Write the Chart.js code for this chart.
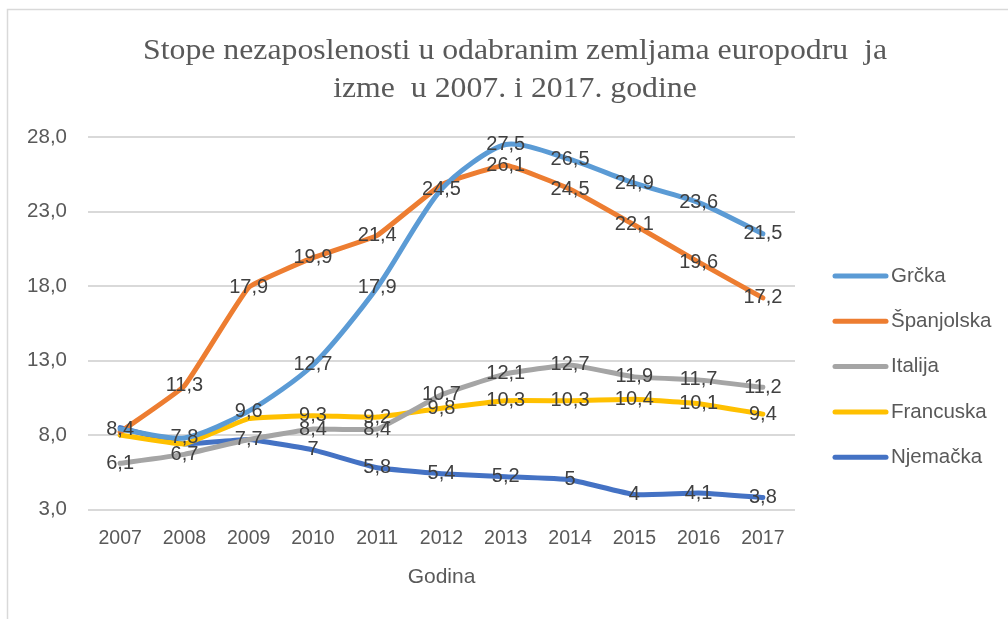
<!DOCTYPE html>
<html>
<head>
<meta charset="utf-8">
<style>
  html,body{margin:0;padding:0;background:#fff;}
  #wrap{position:relative;width:1008px;height:619px;}
</style>
<script src="https://cdn.jsdelivr.net/npm/chart.js@4/dist/chart.umd.min.js"></script>
</head>
<body>
<div id="wrap"><canvas id="c" width="1008" height="619"></canvas></div>
<script>
const years = ['2007','2008','2009','2010','2011','2012','2013','2014','2015','2016','2017'];
const grcka = [8.4, 7.8, 9.6, 12.7, 17.9, 24.5, 27.5, 26.5, 24.9, 23.6, 21.5];
const spanjolska = [8.2, 11.3, 17.9, 19.9, 21.4, 24.8, 26.1, 24.5, 22.1, 19.6, 17.2];
const italija = [6.1, 6.7, 7.7, 8.4, 8.4, 10.7, 12.1, 12.7, 11.9, 11.7, 11.2];
const francuska = [8.0, 7.4, 9.1, 9.3, 9.2, 9.8, 10.3, 10.3, 10.4, 10.1, 9.4];
const njemacka = [8.5, 7.4, 7.7, 7.0, 5.8, 5.4, 5.2, 5.0, 4.0, 4.1, 3.8];
const yTicks = [3, 8, 13, 18, 23, 28];
const titleLines = ['Stope nezaposlenosti u odabranim zemljama europodru  ja', 'izme  u 2007. i 2017. godine'];
const xTitle = 'Godina';
// indices of points whose value label is not shown in the original
const hiddenLabels = {
  'Grčka': [],
  'Španjolska': [0, 5],
  'Italija': [2],
  'Francuska': [0, 1, 2],
  'Njemačka': [0, 1]
};

const series = [
  {label:'Grčka', data:grcka, color:'#5B9BD5', tension:0.25},
  {label:'Španjolska', data:spanjolska, color:'#ED7D31', tension:0.1},
  {label:'Italija', data:italija, color:'#A5A5A5', tension:0.1},
  {label:'Francuska', data:francuska, color:'#FFC000', tension:0.1},
  {label:'Njemačka', data:njemacka, color:'#4472C4', tension:0.1}
];

const fmt = v => String(v).replace('.', ',');
const TXT = '#404040';
const SANS = '"Liberation Sans", Arial, sans-serif';

const decorPlugin = {
  id: 'decor',
  beforeDraw(chart){
    const ctx = chart.ctx;
    ctx.save();
    ctx.strokeStyle = '#D9D9D9';
    ctx.lineWidth = 1.5;
    ctx.beginPath();
    ctx.moveTo(7.5, 619); ctx.lineTo(7.5, 9.5); ctx.lineTo(1008, 9.5);
    ctx.stroke();
    // title
    ctx.fillStyle = '#595959';
    ctx.font = '29px "Liberation Serif", "Times New Roman", serif';
    ctx.textAlign = 'center';
    ctx.textBaseline = 'middle';
    const w0 = ctx.measureText(titleLines[0]).width;
    const sx = 744 / w0;
    [[titleLines[0], 51], [titleLines[1], 89]].forEach(([t, y]) => {
      ctx.save();
      ctx.translate(515, y);
      ctx.scale(sx, 1);
      ctx.fillText(t, 0, 0);
      ctx.restore();
    });
    ctx.restore();
  },
  afterDatasetsDraw(chart){
    const ctx = chart.ctx;
    ctx.save();
    ctx.font = '20px ' + SANS;
    ctx.fillStyle = TXT;
    ctx.textAlign = 'center';
    ctx.textBaseline = 'middle';
    chart.data.datasets.forEach((ds, di) => {
      const meta = chart.getDatasetMeta(di);
      const hid = hiddenLabels[ds.label] || [];
      meta.data.forEach((pt, i) => {
        if (hid.includes(i)) return;
        ctx.fillText(fmt(ds.data[i]), pt.x, pt.y);
      });
    });
    // legend
    const lx = 832, ly0 = 276, gap = 45.3;
    chart.data.datasets.forEach((ds, i) => {
      const y = ly0 + i * gap;
      ctx.strokeStyle = ds.borderColor;
      ctx.lineWidth = 5;
      ctx.lineCap = 'round';
      ctx.beginPath(); ctx.moveTo(lx + 3, y); ctx.lineTo(lx + 54, y); ctx.stroke();
      ctx.fillStyle = '#595959';
      ctx.textAlign = 'left';
      ctx.font = '20.5px ' + SANS;
      ctx.fillText(ds.label, lx + 59, y);
    });
    ctx.restore();
  }
};

new Chart(document.getElementById('c'), {
  type: 'line',
  data: {
    labels: years,
    datasets: series.map(s => ({
      label: s.label,
      data: s.data,
      borderColor: s.color,
      backgroundColor: s.color,
      borderWidth: 5,
      pointRadius: 0,
      tension: s.tension,
      fill: false,
      borderCapStyle: 'round',
      borderJoinStyle: 'round'
    }))
  },
  options: {
    responsive: false,
    animation: false,
    devicePixelRatio: 1,
    layout: { padding: { left: 8, right: 213, top: 137, bottom: 31 } },
    plugins: { legend: { display: false }, title: { display: false }, tooltip: { enabled: false } },
    scales: {
      x: {
        offset: true,
        grid: { display: false, drawTicks: false },
        border: { display: false },
        ticks: { color: '#595959', font: { family: SANS, size: 19.5, lineHeight: 1 }, padding: 19, maxRotation: 0 },
        title: { display: true, text: xTitle, color: '#595959', font: { family: SANS, size: 21, lineHeight: 1 }, padding: { top: 0, bottom: 0 } }
      },
      y: {
        min: yTicks[0],
        max: yTicks[yTicks.length - 1],
        afterBuildTicks: scale => { scale.ticks = yTicks.map(v => ({ value: v })); },
        afterFit: scale => { scale.width = 80; },
        grid: { color: '#D9D9D9', lineWidth: 2, drawTicks: false },
        border: { display: false },
        ticks: { color: '#595959', font: { family: SANS, size: 20.5 }, padding: 21,
                 callback: v => Number(v).toFixed(1).replace('.', ',') }
      }
    }
  },
  plugins: [decorPlugin]
});
</script>
</body>
</html>
